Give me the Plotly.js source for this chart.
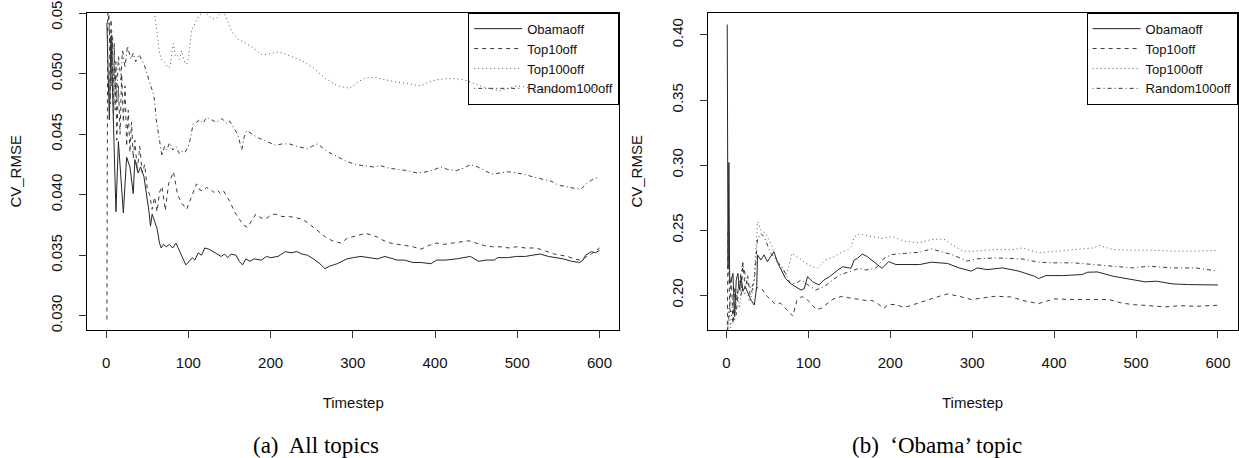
<!DOCTYPE html>
<html>
<head>
<meta charset="utf-8">
<script src="https://cdn.plot.ly/plotly-3.0.1.min.js"></script>
<style>html,body{margin:0;padding:0;background:#fff}#chart{width:1239px;height:458px}</style>
</head>
<body>
<div id="chart"></div>
<script>
// ---------- data (Timestep, CV_RMSE) ----------
const seriesNames = ["Obamaoff", "Top10off", "Top100off", "Random100off"];
const xTicks = [0, 100, 200, 300, 400, 500, 600];
const yTicksA = [0.030, 0.035, 0.040, 0.045, 0.050, 0.055];
const yTicksB = [0.20, 0.25, 0.30, 0.35, 0.40];
const captionA = "(a)\u00a0 All topics";
const captionB = "(b)\u00a0 \u2018Obama\u2019 topic";

// (a) All topics
const a_obama = [[1,0.0542],[4,0.0462],[6,0.0531],[12,0.0386],[15,0.0444],[21,0.0385],[25,0.0431],[29,0.0423],[33,0.0401],[35,0.0429],[39,0.0418],[42,0.0423],[46,0.0415],[50,0.0398],[52,0.0387],[54,0.0374],[56,0.0384],[59,0.0378],[62,0.0372],[65,0.0360],[67,0.0356],[70,0.0359],[73,0.0357],[77,0.0359],[81,0.0356],[85,0.0360],[89,0.0354],[93,0.0349],[97,0.0342],[101,0.0345],[105,0.0348],[108,0.0346],[112,0.0352],[116,0.0350],[120,0.0356],[125,0.0355],[130,0.0353],[134,0.0352],[140,0.0349],[144,0.0351],[148,0.0348],[152,0.0351],[158,0.0350],[162,0.0345],[166,0.0342],[170,0.0347],[175,0.0345],[180,0.0347],[189,0.0346],[195,0.0349],[200,0.0348],[209,0.0349],[218,0.0353],[225,0.0352],[232,0.0353],[238,0.0351],[245,0.0350],[252,0.0347],[260,0.0343],[266,0.0339],[272,0.0341],[281,0.0343],[287,0.0345],[293,0.0347],[300,0.0348],[310,0.0349],[320,0.0348],[330,0.0347],[339,0.0349],[345,0.0348],[354,0.0346],[363,0.0346],[373,0.0344],[383,0.0344],[395,0.0343],[402,0.0346],[413,0.0346],[426,0.0347],[436,0.0348],[443,0.0349],[448,0.0347],[453,0.0345],[462,0.0346],[472,0.0346],[476,0.0348],[488,0.0348],[499,0.0349],[510,0.0349],[518,0.0350],[528,0.0351],[538,0.0349],[547,0.0348],[556,0.0347],[566,0.0345],[576,0.0344],[580,0.0346],[583,0.0350],[590,0.0353],[595,0.0352],[600,0.0354]];
const a_top10 = [[1,0.0297],[2,0.0565],[3,0.0555],[4,0.054],[5,0.0475],[6,0.0545],[7,0.049],[8,0.053],[9,0.0455],[10,0.0525],[11,0.047],[12,0.051],[13,0.0445],[15,0.049],[17,0.045],[19,0.050],[21,0.046],[23,0.049],[25,0.044],[27,0.047],[29,0.0435],[31,0.046],[33,0.043],[35,0.0445],[38,0.042],[41,0.044],[44,0.0418],[47,0.0425],[50,0.0405],[53,0.040],[56,0.0388],[59,0.0398],[62,0.0386],[65,0.0402],[68,0.0407],[70,0.0395],[72,0.0387],[76,0.0409],[82,0.0419],[87,0.0400],[92,0.0393],[98,0.0388],[104,0.0399],[110,0.0409],[114,0.0404],[118,0.0403],[122,0.0406],[126,0.0405],[131,0.0402],[135,0.0404],[139,0.0401],[143,0.0403],[150,0.0395],[157,0.0385],[163,0.0379],[167,0.0375],[172,0.0373],[177,0.0378],[182,0.0384],[188,0.0381],[194,0.0380],[200,0.0383],[206,0.0384],[214,0.0382],[223,0.0382],[230,0.0381],[238,0.0380],[245,0.0377],[252,0.0373],[260,0.0369],[267,0.0365],[275,0.0362],[286,0.0360],[293,0.0364],[304,0.0366],[315,0.0368],[322,0.0367],[330,0.0365],[338,0.0362],[346,0.0360],[355,0.0359],[363,0.0358],[373,0.0357],[383,0.0355],[392,0.0358],[402,0.0360],[411,0.0359],[421,0.0360],[431,0.0361],[441,0.0362],[450,0.0360],[460,0.0358],[470,0.0357],[479,0.0357],[490,0.0356],[499,0.0357],[510,0.0356],[520,0.0356],[528,0.0355],[537,0.0353],[545,0.0351],[553,0.0350],[561,0.0349],[569,0.0347],[576,0.0346],[582,0.0348],[590,0.0351],[596,0.0354],[600,0.0356]];
const a_top100 = [[1,0.070],[10,0.065],[20,0.063],[30,0.061],[40,0.059],[50,0.058],[56,0.0565],[60,0.0545],[63,0.0525],[65,0.0517],[68,0.0511],[72,0.0509],[75,0.0505],[78,0.0506],[80,0.0518],[82,0.0525],[84,0.0515],[86,0.0516],[89,0.0512],[92,0.0519],[94,0.0513],[96,0.0509],[98,0.0508],[100,0.0512],[104,0.0536],[108,0.0542],[113,0.0548],[118,0.0551],[123,0.0549],[128,0.0546],[133,0.0545],[138,0.0549],[143,0.0551],[147,0.0545],[152,0.0536],[156,0.0532],[160,0.0529],[165,0.0527],[170,0.0525],[175,0.0523],[180,0.0521],[185,0.0518],[189,0.0516],[195,0.0516],[202,0.0517],[209,0.0518],[215,0.0517],[222,0.0515],[230,0.0513],[238,0.0511],[245,0.0508],[252,0.0505],[260,0.0500],[267,0.0496],[274,0.0493],[281,0.0490],[289,0.0489],[296,0.0488],[302,0.0491],[308,0.0494],[314,0.0496],[320,0.0497],[327,0.0497],[334,0.0496],[344,0.0494],[354,0.0493],[365,0.0492],[375,0.0491],[383,0.0490],[392,0.0493],[402,0.0495],[414,0.0496],[426,0.0496],[434,0.0495],[440,0.0494],[448,0.0492],[455,0.0490],[465,0.0488],[479,0.0486],[489,0.0488],[499,0.0490],[510,0.0489],[520,0.0487],[533,0.0487],[545,0.0486],[557,0.0485],[571,0.0484],[580,0.0485],[588,0.0487],[595,0.0489],[600,0.0491]];
const a_rand100 = [[2,0.056],[4,0.0535],[5,0.052],[7,0.0535],[8,0.049],[10,0.0505],[13,0.048],[15,0.0515],[18,0.0495],[20,0.052],[23,0.0505],[26,0.0523],[30,0.0512],[33,0.0517],[36,0.051],[40,0.0516],[43,0.0512],[46,0.0508],[50,0.0500],[53,0.0492],[57,0.0485],[59,0.0478],[61,0.0462],[65,0.0445],[68,0.0432],[71,0.0440],[74,0.0437],[77,0.0443],[81,0.0437],[85,0.0440],[89,0.0434],[92,0.0436],[96,0.0435],[100,0.0440],[102,0.0445],[106,0.0459],[110,0.0460],[114,0.0462],[118,0.0459],[122,0.0464],[128,0.0462],[134,0.0460],[141,0.0463],[146,0.0459],[150,0.0461],[155,0.0455],[160,0.0450],[165,0.0437],[168,0.0448],[171,0.0453],[176,0.0451],[180,0.0449],[185,0.0447],[192,0.0445],[199,0.0443],[206,0.0441],[214,0.0442],[223,0.0442],[232,0.0440],[240,0.0439],[245,0.0438],[250,0.0440],[257,0.0442],[263,0.0439],[271,0.0435],[280,0.0432],[291,0.0428],[303,0.0425],[315,0.0424],[325,0.0423],[334,0.0424],[344,0.0422],[354,0.0421],[366,0.0420],[378,0.0418],[390,0.0419],[400,0.0421],[407,0.0423],[415,0.0421],[426,0.0420],[435,0.0422],[443,0.0425],[452,0.0423],[460,0.0420],[469,0.0417],[479,0.0418],[489,0.0419],[499,0.0418],[508,0.0417],[518,0.0415],[530,0.0413],[542,0.0411],[550,0.0408],[557,0.0407],[565,0.0406],[572,0.0405],[578,0.0405],[584,0.0409],[590,0.0412],[596,0.0414],[600,0.0415]];

// (b) 'Obama' topic
const b_obama = [[1,0.408],[2,0.22],[3,0.302],[4,0.209],[6,0.212],[8,0.2168],[10,0.1836],[12,0.2117],[14,0.2168],[16,0.204],[18,0.2143],[20,0.203],[23,0.2066],[26,0.2015],[30,0.1963],[34,0.1925],[37,0.2066],[38,0.231],[42,0.2271],[46,0.231],[50,0.2258],[54,0.2297],[58,0.2335],[62,0.2258],[66,0.2207],[72,0.213],[78,0.2091],[85,0.2066],[91,0.204],[95,0.205],[99,0.2143],[105,0.2104],[113,0.2079],[119,0.2117],[126,0.2143],[136,0.2194],[142,0.2219],[152,0.2207],[156,0.2271],[160,0.2284],[166,0.2317],[172,0.2297],[180,0.2258],[190,0.2207],[198,0.2258],[207,0.2236],[236,0.2236],[250,0.2254],[270,0.2244],[284,0.221],[299,0.2185],[306,0.221],[318,0.2197],[337,0.221],[357,0.2185],[376,0.2146],[381,0.2128],[390,0.2151],[410,0.2151],[434,0.2159],[441,0.2177],[453,0.2179],[472,0.2146],[496,0.2121],[511,0.2103],[525,0.2108],[545,0.2087],[564,0.2082],[583,0.2082],[600,0.2079]];
const b_top10 = [[1,0.165],[2,0.25],[4,0.19],[6,0.215],[8,0.178],[10,0.205],[12,0.185],[15,0.21],[18,0.20],[20,0.225],[23,0.205],[26,0.215],[29,0.20],[32,0.205],[35,0.203],[38,0.206],[43,0.205],[50,0.199],[55,0.196],[60,0.193],[66,0.194],[72,0.190],[78,0.186],[81,0.184],[86,0.196],[92,0.199],[98,0.197],[104,0.193],[110,0.189],[116,0.190],[122,0.193],[130,0.197],[140,0.199],[150,0.198],[160,0.197],[170,0.196],[178,0.196],[186,0.193],[192,0.190],[198,0.193],[207,0.1928],[215,0.191],[222,0.1915],[236,0.1941],[250,0.1972],[260,0.1992],[270,0.2010],[284,0.1992],[299,0.1967],[313,0.1979],[328,0.1992],[347,0.1987],[366,0.1954],[381,0.1936],[400,0.1972],[424,0.1967],[448,0.1967],[467,0.1967],[482,0.1941],[496,0.1928],[516,0.1920],[535,0.1910],[554,0.1920],[573,0.1915],[600,0.1923]];
const b_top100 = [[1,0.165],[3,0.19],[5,0.175],[8,0.20],[10,0.18],[13,0.205],[16,0.19],[19,0.21],[22,0.20],[25,0.205],[28,0.195],[31,0.20],[34,0.215],[36,0.235],[38,0.2565],[42,0.25],[48,0.2475],[54,0.2398],[60,0.2296],[66,0.2219],[72,0.2143],[76,0.222],[80,0.2322],[84,0.230],[89,0.2284],[97,0.2245],[105,0.2219],[111,0.2207],[121,0.2271],[131,0.2296],[142,0.2335],[148,0.2348],[153,0.238],[156,0.245],[162,0.247],[170,0.246],[178,0.245],[190,0.2437],[198,0.2449],[205,0.2445],[217,0.2415],[236,0.2403],[250,0.2428],[265,0.2433],[275,0.239],[289,0.2338],[303,0.2338],[328,0.2351],[352,0.2351],[361,0.2364],[381,0.2326],[400,0.2338],[424,0.2351],[448,0.2364],[455,0.2382],[472,0.2351],[496,0.2346],[520,0.2346],[545,0.2338],[569,0.2338],[600,0.2344]];
const b_rand100 = [[1,0.17],[4,0.19],[8,0.181],[12,0.196],[16,0.21],[20,0.2245],[25,0.21],[30,0.205],[34,0.21],[38,0.2437],[42,0.2475],[46,0.245],[50,0.2386],[54,0.2322],[58,0.2297],[62,0.2258],[68,0.2219],[72,0.2168],[78,0.209],[85,0.2091],[91,0.2117],[97,0.2091],[103,0.2066],[109,0.204],[119,0.2066],[130,0.2117],[138,0.2155],[150,0.2181],[162,0.2207],[170,0.2194],[182,0.2207],[193,0.2287],[202,0.2313],[217,0.2321],[236,0.2331],[250,0.2356],[260,0.2338],[275,0.2313],[294,0.2262],[304,0.2279],[328,0.2287],[352,0.2282],[361,0.2279],[381,0.2254],[400,0.2249],[424,0.2249],[448,0.2236],[472,0.2223],[496,0.2210],[516,0.2223],[545,0.2210],[573,0.2210],[600,0.2185]];

// ---------- styling ----------
const FONT = "Liberation Sans, Arial, Helvetica, sans-serif";
const styles = [
  {color: "#262626", dash: "solid"},
  {color: "#3a3a3a", dash: "4px,4px"},
  {color: "#555555", dash: "1px,3px"},
  {color: "#3a3a3a", dash: "1px,3px,4px,3px"}
];

function mk(data, i, xa, ya, leg) {
  return {
    type: "scatter", mode: "lines",
    x: data.map(d => d[0]), y: data.map(d => d[1]),
    name: seriesNames[i], xaxis: xa, yaxis: ya, legend: leg,
    line: {color: styles[i].color, dash: styles[i].dash, width: 1},
    hoverinfo: "skip"
  };
}

const traces = [
  mk(a_obama, 0, "x", "y", "legend"),
  mk(a_top10, 1, "x", "y", "legend"),
  mk(a_top100, 2, "x", "y", "legend"),
  mk(a_rand100, 3, "x", "y", "legend"),
  mk(b_obama, 0, "x2", "y2", "legend2"),
  mk(b_top10, 1, "x2", "y2", "legend2"),
  mk(b_top100, 2, "x2", "y2", "legend2"),
  mk(b_rand100, 3, "x2", "y2", "legend2")
];

const W = 1239, H = 458;
const boxA = [87.2, 619.2], boxB = [707.6, 1237.6], boxY = [12.7, 330];
const yDom = [1 - boxY[1] / H, 1 - boxY[0] / H];

function xAxis(dom, anchor) {
  return {
    domain: [dom[0] / W, dom[1] / W], anchor: anchor,
    range: [-22.96, 623.96], tickvals: xTicks, ticks: "outside", ticklen: 7, tickwidth: 1, tickcolor: "#333",
    showline: true, mirror: true, linecolor: "#000", linewidth: 1,
    showgrid: false, zeroline: false, ticklabelstandoff: 12,
    tickfont: {family: FONT, size: 15, color: "#111"},
    title: {text: "Timestep", font: {family: FONT, size: 15, color: "#111"}, standoff: 27},
    automargin: false
  };
}
function yAxis(range, ticks, fmt, anchor) {
  return {
    domain: yDom, anchor: anchor,
    range: range, tickvals: ticks, tickformat: fmt, tickangle: -90,
    ticks: "outside", ticklen: 7, tickwidth: 1, tickcolor: "#333",
    showline: true, mirror: true, linecolor: "#000", linewidth: 1,
    showgrid: false, zeroline: false, ticklabelstandoff: 11, ticklabeloverflow: "allow",
    tickfont: {family: FONT, size: 15, color: "#111"},
    title: {text: "CV_RMSE", font: {family: FONT, size: 15, color: "#111"}, standoff: 22},
    automargin: false
  };
}
function legendAt(xr) {
  return {
    x: xr / W, xanchor: "right", y: yDom[1], yanchor: "top",
    bgcolor: "rgba(0,0,0,0)", bordercolor: "#000", borderwidth: 1,
    font: {family: FONT, size: 13, color: "#111"}, tracegroupgap: 0,
    itemwidth: 48
  };
}

const layout = {
  width: W, height: H,
  margin: {l: 0, r: 0, t: 0, b: 0},
  paper_bgcolor: "#fff", plot_bgcolor: "#fff",
  showlegend: true,
  xaxis: xAxis(boxA, "y"),
  yaxis: yAxis([0.02882, 0.05505], yTicksA, ".3f", "x"),
  xaxis2: xAxis(boxB, "y2"),
  yaxis2: yAxis([0.1733, 0.4171], yTicksB, ".2f", "x2"),
  legend: legendAt(boxA[1]),
  legend2: legendAt(boxB[1]),
  annotations: [
    {text: captionA, xref: "paper", yref: "paper", x: 316 / W, y: 1 - 445 / H, xanchor: "center", yanchor: "middle", showarrow: false,
     font: {family: "Liberation Serif, Times New Roman, serif", size: 23, color: "#000"}},
    {text: captionB, xref: "paper", yref: "paper", x: 937 / W, y: 1 - 445 / H, xanchor: "center", yanchor: "middle", showarrow: false,
     font: {family: "Liberation Serif, Times New Roman, serif", size: 23, color: "#000"}}
  ]
};

Plotly.newPlot("chart", traces, layout, {staticPlot: true, displayModeBar: false});
</script>
</body>
</html>
